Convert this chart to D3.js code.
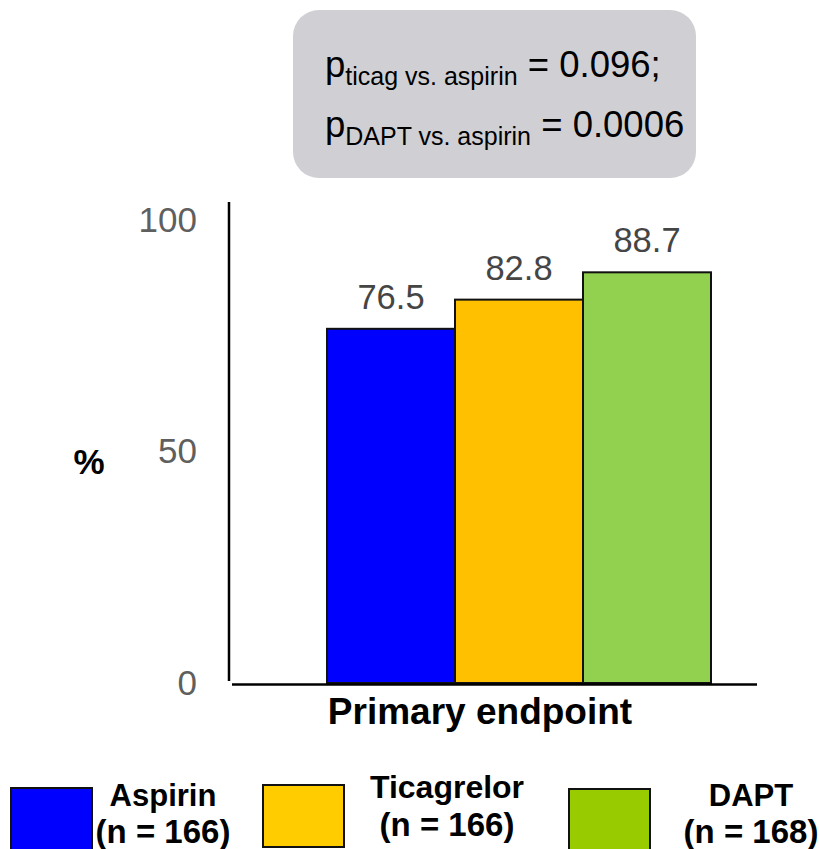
<!DOCTYPE html>
<html>
<head>
<meta charset="utf-8">
<script src="https://cdn.jsdelivr.net/npm/d3@7"></script>
<style>
  html, body { margin: 0; padding: 0; background: #fff; }
  svg { display: block; font-family: "Liberation Sans", Arial, Helvetica, sans-serif; }
</style>
</head>
<body>
<svg id="chart" width="820" height="849"></svg>
<script>
// ---- data ----
const categories = ["Aspirin", "Ticagrelor", "DAPT"];
const values = [76.5, 82.8, 88.7];
const valueLabels = ["76.5", "82.8", "88.7"];
const barColors = ["#0000ff", "#ffc000", "#92d050"];
const legendColors = ["#0000ff", "#ffcc00", "#99cc00"];
const legendNames = ["Aspirin", "Ticagrelor", "DAPT"];
const legendN = ["(n = 166)", "(n = 166)", "(n = 168)"];
const yTicks = [0, 50, 100];
const xCategory = "Primary endpoint";
const yTitle = "%";
const pLines = [
  { sub: "ticag vs. aspirin", rest: " = 0.096;" },
  { sub: "DAPT vs. aspirin", rest: " = 0.0006" }
];

const svg = d3.select("#chart");

// ---- scales ----
const x = d3.scaleBand().domain(categories).range([327, 711]).padding(0);
const y = d3.scaleLinear().domain([0, 100]).range([683, 220]);

// ---- p-value box ----
svg.append("rect")
  .attr("x", 293).attr("y", 10).attr("width", 403).attr("height", 168)
  .attr("rx", 26).attr("ry", 26)
  .attr("fill", "#d0d0d4");

const pText = svg.append("g");
pLines.forEach((l, i) => {
  const t = pText.append("text")
    .attr("x", 325).attr("y", 77 + i * 60)
    .attr("fill", "#000")
    .style("font-size", "36.5px");
  t.append("tspan").text("p");
  t.append("tspan").attr("dy", 8).style("font-size", "25px").text(l.sub);
  t.append("tspan").attr("dy", -8).text(l.rest);
});

// ---- bars ----
svg.append("g").selectAll("rect")
  .data(categories)
  .join("rect")
  .attr("x", d => x(d))
  .attr("y", (d, i) => y(values[i]))
  .attr("width", x.bandwidth())
  .attr("height", (d, i) => y(0) - y(values[i]))
  .attr("fill", (d, i) => barColors[i])
  .attr("stroke", "#111")
  .attr("stroke-width", 2);

// value labels
svg.append("g").selectAll("text")
  .data(categories)
  .join("text")
  .attr("x", d => x(d) + x.bandwidth() / 2)
  .attr("y", (d, i) => y(values[i]) - 20)
  .attr("text-anchor", "middle")
  .attr("fill", "#454545")
  .style("font-size", "34.5px")
  .text((d, i) => valueLabels[i]);

// ---- axes ----
const yAxis = d3.axisLeft(y).tickValues(yTicks).tickSize(0).tickPadding(32).tickFormat(d3.format("d"));
const gy = svg.append("g").attr("transform", "translate(229,0)").call(yAxis);
gy.select(".domain").remove();
gy.selectAll("text")
  .attr("fill", "#5f5f5f")
  .style("font-size", "35px")
  .style("font-family", "\"Liberation Sans\", Arial, sans-serif");

// axis lines
svg.append("line")
  .attr("x1", 229).attr("x2", 229).attr("y1", 202).attr("y2", 681)
  .attr("stroke", "#000").attr("stroke-width", 2.5);
svg.append("line")
  .attr("x1", 232).attr("x2", 757).attr("y1", 684.5).attr("y2", 684.5)
  .attr("stroke", "#000").attr("stroke-width", 2.5);

// x category label
svg.append("text")
  .attr("x", 480).attr("y", 724)
  .attr("text-anchor", "middle")
  .attr("fill", "#000")
  .style("font-size", "37px").style("font-weight", "bold")
  .text(xCategory);

// y title
svg.append("text")
  .attr("x", 89).attr("y", 474)
  .attr("text-anchor", "middle")
  .attr("fill", "#000")
  .style("font-size", "35px").style("font-weight", "bold")
  .text(yTitle);

// ---- legend ----
const legendBoxX = [11, 263, 569];
const legendBoxY = [788, 785, 789];
const legendTextX = [163, 447, 751];
const legendNameY = [806, 798, 806];
const legendNY = [843, 836, 843];
const legendNameSize = [31, 32, 31];

const lg = svg.append("g");
legendNames.forEach((name, i) => {
  lg.append("rect")
    .attr("x", legendBoxX[i]).attr("y", legendBoxY[i])
    .attr("width", 81).attr("height", 62)
    .attr("fill", legendColors[i])
    .attr("stroke", "#111").attr("stroke-width", 2);
  lg.append("text")
    .attr("x", legendTextX[i]).attr("y", legendNameY[i])
    .attr("text-anchor", "middle")
    .style("font-size", legendNameSize[i] + "px").style("font-weight", "bold")
    .text(name);
  lg.append("text")
    .attr("x", legendTextX[i]).attr("y", legendNY[i])
    .attr("text-anchor", "middle")
    .style("font-size", "33px").style("font-weight", "bold")
    .text(legendN[i]);
});
</script>
</body>
</html>
